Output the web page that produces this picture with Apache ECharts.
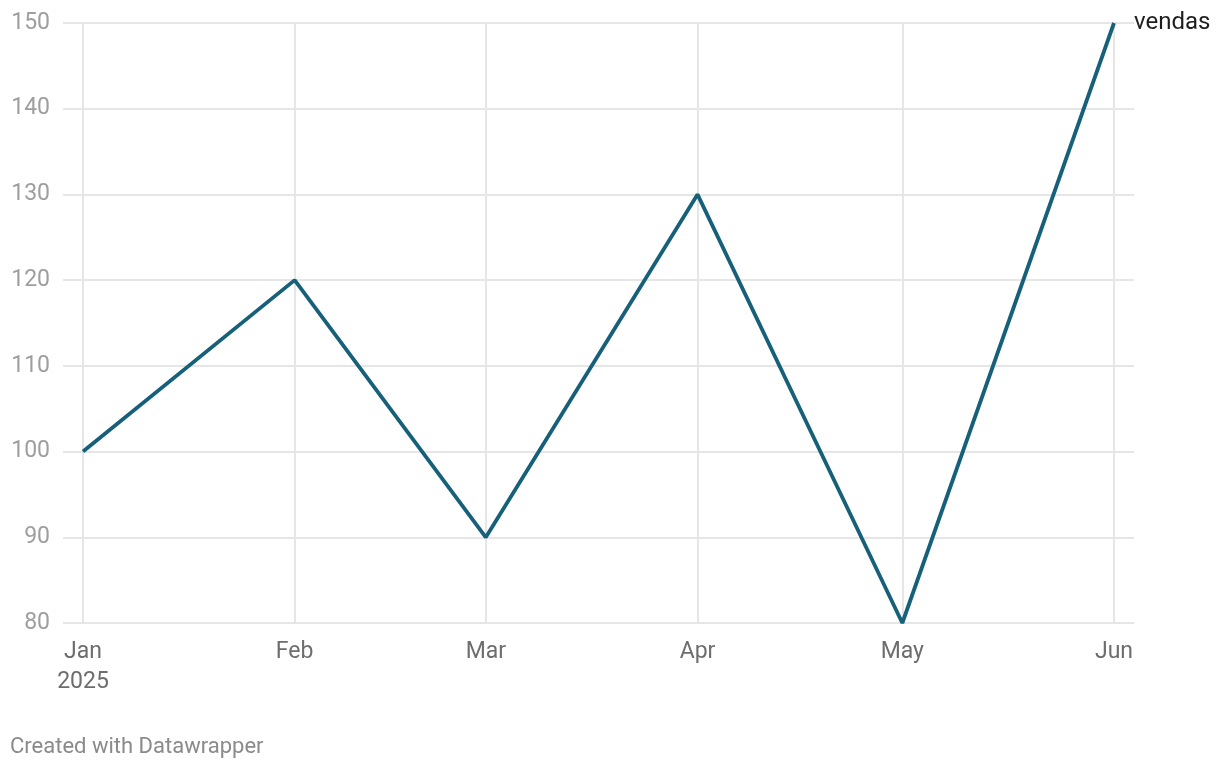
<!DOCTYPE html>
<html><head><meta charset="utf-8">
<script src="https://cdn.jsdelivr.net/npm/echarts@6/dist/echarts.min.js"></script>
<style>html,body{margin:0;padding:0;background:#fff}#c{width:1220px;height:770px}</style>
</head><body><div id="c"></div>
<script>
const dates = ['2025-01-01','2025-02-01','2025-03-01','2025-04-01','2025-05-01','2025-06-01'];
const vendas = [100, 120, 90, 130, 80, 150];
const monthLabels = ['Jan','Feb','Mar','Apr','May','Jun'];
const seriesName = 'vendas';
const yTicks = [80, 90, 100, 110, 120, 130, 140, 150];

const ts = dates.map(d => Date.UTC(+d.slice(0,4), +d.slice(5,7)-1, +d.slice(8,10)));
const DAY = 86400000;
const pad = 2.93 * DAY;
const chart = echarts.init(document.getElementById('c'), null, {renderer:'canvas'});
chart.setOption({
  animation: false,
  backgroundColor: '#fff',
  grid: {left: 63, right: 86, top: 23, bottom: 147, containLabel: false},
  xAxis: {
    type: 'value', min: ts[0] - pad, max: ts[ts.length-1] + pad,
    splitLine: {show: false}, axisLine: {show: false}, axisTick: {show: false},
    axisLabel: {
      customValues: ts, margin: 14, color: '#6d6d6d', fontSize: 23, fontFamily: 'Roboto', lineHeight: 30,
      formatter: v => { const i = ts.indexOf(v); return i === 0 ? monthLabels[i] + '\n2025' : monthLabels[i]; }
    }
  },
  yAxis: {
    type: 'value', min: yTicks[0], max: yTicks[yTicks.length-1], interval: 10,
    axisLine: {show: false}, axisTick: {show: false},
    splitLine: {lineStyle: {color: '#e6e6e6', width: 2}},
    axisLabel: {margin: 13, color: '#9e9e9e', fontSize: 23, fontFamily: 'Roboto'}
  },
  series: [
    {
      type: 'line', data: [], z: 1, silent: true,
      markLine: {
        silent: true, symbol: 'none', label: {show: false},
        lineStyle: {color: '#e6e6e6', width: 2, type: 'solid'},
        data: ts.map(t => [{coord: [t, yTicks[0]]}, {coord: [t, yTicks[yTicks.length-1]]}])
      }
    },
    {
      name: seriesName, type: 'line', z: 5,
      data: ts.map((t, i) => [t, vendas[i]]),
      showSymbol: false, symbol: 'none',
      lineStyle: {color: '#17607a', width: 3.8},
      endLabel: {show: true, formatter: seriesName, color: '#1d1d1d', fontSize: 24, fontFamily: 'Roboto', distance: 20}
    }
  ],
  graphic: [{type: 'text', left: 10, top: 736, style: {text: 'Created with Datawrapper', fill: '#8a8a8a', fontSize: 22, fontFamily: 'Roboto'}}]
});
</script></body></html>
